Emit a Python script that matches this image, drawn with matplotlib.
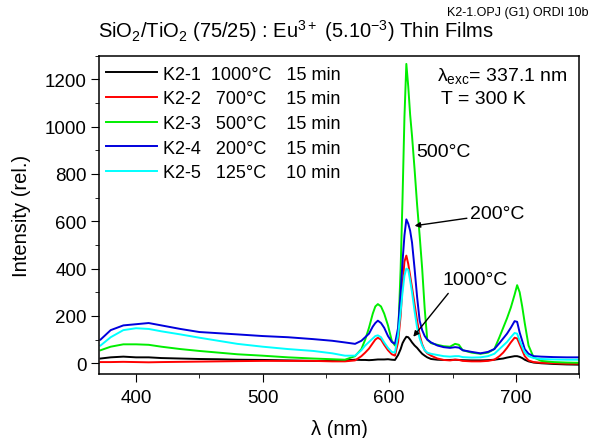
import matplotlib
matplotlib.use("Agg")
import matplotlib.pyplot as plt
from matplotlib.ticker import MultipleLocator

plt.rcParams['font.family'] = ['Liberation Sans', 'DejaVu Sans']
plt.rcParams['mathtext.fontset'] = 'custom'
plt.rcParams['mathtext.rm'] = 'Liberation Sans'
plt.rcParams['mathtext.it'] = 'Liberation Sans:italic'

# wavelength grid (nm)
wl = [372, 380, 390, 400, 410, 420, 435, 450, 465, 480, 500, 520, 540, 555, 565,
      573, 578, 581, 584, 587, 589, 591, 593.5, 596, 599, 602, 604.5, 607, 609,
      610.5, 612, 613.5, 615, 616.5, 618, 620, 622, 624, 626, 628, 630, 633, 638,
      643, 648, 652, 655, 658, 665, 672, 678, 683, 687, 690, 693, 696, 699, 701,
      703, 705, 707, 710, 714, 720, 730, 740, 750]

k2_1 = [20, 25, 28, 25, 25, 22, 20, 18, 17, 15, 14, 12, 10, 10, 12,
        15, 14, 14, 13, 14, 15, 16, 16, 16, 17, 15, 14, 35, 60,
        85, 100, 112, 110, 100, 88, 75, 65, 52, 40, 32, 25, 18, 15,
        14, 14, 15, 14, 13, 12, 12, 13, 15, 18, 20, 24, 27, 30, 30,
        27, 22, 15, 8, 3, 0, -3, -5, -6]

k2_2 = [5, 5, 6, 5, 4, 5, 6, 7, 8, 9, 10, 10, 10, 8, 8,
        12, 30, 45, 62, 85, 100, 108, 100, 78, 55, 38, 32, 90, 200,
        330, 430, 455, 420, 370, 320, 250, 180, 120, 80, 55, 42, 32, 20,
        14, 12, 15, 14, 10, 8, 8, 10, 15, 30, 45, 65, 88, 108, 105,
        80, 55, 30, 12, 5, 2, 0, -2, -2]

k2_3 = [55, 70, 80, 80, 78, 70, 60, 52, 45, 38, 32, 25, 20, 17, 15,
        30, 60, 100, 150, 210, 240, 250, 240, 210, 160, 95, 75, 115, 400,
        700, 1040, 1265, 1170, 1050, 960, 820, 670, 540, 400, 230, 100, 85, 78,
        72, 70, 82, 78, 55, 45, 40, 45, 60, 110, 150, 190, 235, 290, 330,
        300, 240, 170, 75, 25, 10, 5, 3, 2]

k2_4 = [100, 140, 160, 165, 170, 160, 145, 132, 127, 122, 115, 110, 102, 95, 88,
        82, 95, 110, 125, 155, 170, 180, 170, 150, 115, 90, 82, 150, 300,
        430, 540, 608, 590, 560, 510, 400, 280, 180, 140, 115, 100, 88, 75,
        68, 65, 68, 66, 55, 48, 42, 48, 60, 85, 105, 125, 150, 178, 175,
        130, 95, 60, 40, 30, 28, 26, 25, 25]

k2_5 = [75, 110, 140, 148, 145, 135, 122, 108, 95, 82, 70, 60, 52, 42, 32,
        32, 55, 75, 90, 105, 115, 118, 110, 88, 65, 48, 45, 120, 220,
        300, 370, 400, 395, 350, 300, 220, 150, 105, 75, 55, 45, 40, 35,
        30, 28, 30, 30, 26, 24, 25, 30, 40, 60, 75, 90, 110, 128, 125,
        95, 70, 45, 30, 22, 18, 16, 15, 15]

series = [k2_1, k2_2, k2_3, k2_4, k2_5]
labels = ["K2-1  1000°C   15 min", "K2-2   700°C    15 min", "K2-3   500°C    15 min",
          "K2-4   200°C    15 min", "K2-5   125°C    10 min"]
colors = ["black", "red", "#00ee00", "#0000dd", "cyan"]

fig = plt.figure(figsize=(5.91, 4.39), dpi=100)
ax = fig.add_axes([0.168, 0.146, 0.812, 0.725])

for y, lab, c in zip(series, labels, colors):
    ax.plot(wl, y, color=c, lw=1.4, label=lab)

ax.set_xlim(371, 750)
ax.set_ylim(-45, 1300)
ax.xaxis.set_major_locator(MultipleLocator(100))
ax.xaxis.set_minor_locator(MultipleLocator(50))
ax.yaxis.set_major_locator(MultipleLocator(200))
ax.yaxis.set_minor_locator(MultipleLocator(100))
ax.tick_params(which='major', direction='out', length=5.5, labelsize=13.5)
ax.tick_params(which='minor', direction='out', length=3)
ax.tick_params(axis='x', pad=5.5)
ax.tick_params(axis='y', pad=3.5)
for s in ax.spines.values():
    s.set_linewidth(1.1)

ax.set_xlabel("λ (nm)", fontsize=14.5, labelpad=9)
ax.set_ylabel("Intensity (rel.)", fontsize=14.5, labelpad=10)

ax.legend(loc='upper left', frameon=False, fontsize=13, handlelength=2.8,
          handletextpad=0.33, labelspacing=0.42, borderaxespad=0,
          borderpad=0, bbox_to_anchor=(0.014, 0.968))

ax.text(638, 1218, r"λ$_{\rm exc}$= 337.1 nm", fontsize=14, va='center')
ax.text(641, 1117, "T = 300 K", fontsize=14, va='center')
ax.text(621.5, 893, "500°C", fontsize=14, va='center')
ax.annotate("200°C", xy=(620, 581), xytext=(663.5, 631), fontsize=14,
            va='center', arrowprops=dict(arrowstyle='-|>', color='black',
                                         lw=1, mutation_scale=8, shrinkA=0,
                                         shrinkB=0))
ax.annotate("1000°C", xy=(619, 112), xytext=(642, 352), fontsize=14,
            va='center', arrowprops=dict(arrowstyle='-|>', color='black',
                                         lw=1, mutation_scale=8, shrinkA=2,
                                         shrinkB=0, relpos=(0.15, 0)))

fig.text(0.165, 0.9134, r"SiO$_2$/TiO$_2$ (75/25) : Eu$^{3+}$ (5.10$^{-3}$) Thin Films",
         fontsize=14.5, va='baseline')
fig.text(0.756, 0.963, "K2-1.OPJ (G1) ORDI 10b", fontsize=9, va='baseline')

fig.savefig("out.png", dpi=100)
